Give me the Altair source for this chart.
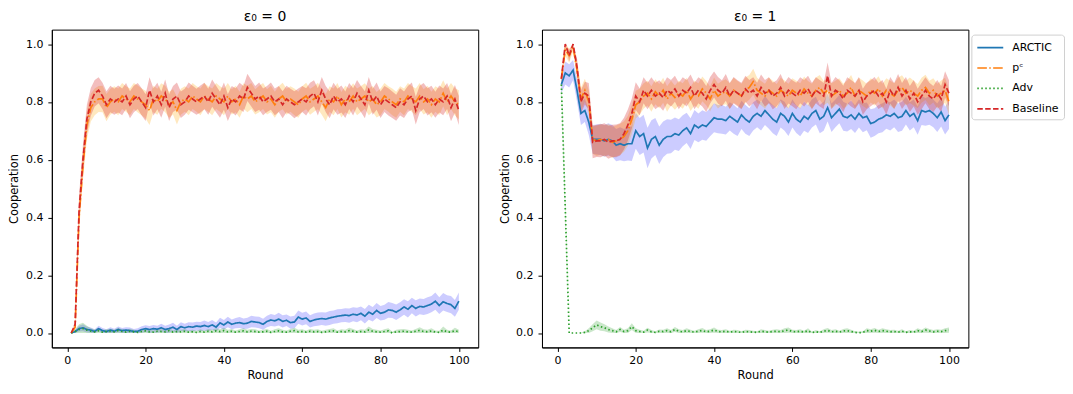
import altair as alt
import pandas as pd

rounds = list(range(1, 101))
series_names = ["ARCTIC", "pᶜ", "Adv", "Baseline"]
line_colors = ["#1f77b4", "#ff7f0e", "#2ca02c", "#d62728"]
band_colors = ["#0000ff", "#ffa500", "#2ca02c", "#d62728"]
band_opacity = [0.2, 0.25, 0.25, 0.3]
dashes = [[1, 0], [9.6, 2.4, 1.5, 2.4], [1.5, 2.5], [5.5, 2.4]]
panel_titles = ["ε₀ = 0", "ε₀ = 1"]
x_ticks = [0, 20, 40, 60, 80, 100]
y_ticks = [0.0, 0.2, 0.4, 0.6, 0.8, 1.0]

# ---------------- panel 1 (eps0 = 0) ----------------
p0_arctic = [0.000, 0.005, 0.015, 0.018, 0.012, 0.010, 0.005, 0.015, 0.008, 0.005,
             0.010, 0.006, 0.012, 0.008, 0.010, 0.008, 0.005, 0.006, 0.012, 0.015,
             0.012, 0.015, 0.013, 0.018, 0.012, 0.015, 0.020, 0.012, 0.022, 0.018,
             0.022, 0.020, 0.024, 0.022, 0.026, 0.022, 0.028, 0.020, 0.035, 0.028,
             0.038, 0.030, 0.034, 0.036, 0.032, 0.034, 0.040, 0.038, 0.036, 0.030,
             0.040, 0.045, 0.042, 0.048, 0.040, 0.044, 0.036, 0.038, 0.055, 0.048,
             0.052, 0.040, 0.045, 0.048, 0.050, 0.048, 0.052, 0.055, 0.058, 0.060,
             0.062, 0.060, 0.065, 0.062, 0.068, 0.058, 0.072, 0.065, 0.078, 0.068,
             0.072, 0.080, 0.078, 0.072, 0.080, 0.090, 0.082, 0.095, 0.085, 0.092,
             0.090, 0.095, 0.100, 0.110, 0.095, 0.108, 0.102, 0.098, 0.085, 0.110]
p0_arctic_ci = [0.000, 0.005, 0.010, 0.012, 0.010, 0.009, 0.008, 0.010, 0.009, 0.008,
                0.010, 0.009, 0.010, 0.009, 0.010, 0.011, 0.009, 0.010, 0.011, 0.012,
                0.012, 0.013, 0.012, 0.014, 0.013, 0.014, 0.015, 0.013, 0.015, 0.014,
                0.015, 0.016, 0.015, 0.016, 0.017, 0.016, 0.017, 0.016, 0.018, 0.017,
                0.018, 0.017, 0.018, 0.019, 0.018, 0.019, 0.020, 0.019, 0.020, 0.019,
                0.020, 0.021, 0.020, 0.022, 0.021, 0.020, 0.021, 0.022, 0.023, 0.022,
                0.022, 0.021, 0.022, 0.023, 0.022, 0.023, 0.024, 0.023, 0.024, 0.023,
                0.024, 0.025, 0.024, 0.025, 0.024, 0.025, 0.026, 0.025, 0.026, 0.025,
                0.026, 0.027, 0.026, 0.027, 0.026, 0.027, 0.028, 0.027, 0.028, 0.027,
                0.028, 0.029, 0.028, 0.030, 0.029, 0.030, 0.029, 0.030, 0.029, 0.030]
p0_pc = [0.00, 0.02, 0.40, 0.58, 0.72, 0.78, 0.80, 0.81, 0.81, 0.78,
         0.80, 0.81, 0.80, 0.82, 0.81, 0.80, 0.82, 0.81, 0.80, 0.79,
         0.77, 0.81, 0.80, 0.82, 0.81, 0.79, 0.80, 0.77, 0.80, 0.81,
         0.80, 0.82, 0.81, 0.80, 0.82, 0.81, 0.80, 0.82, 0.81, 0.80,
         0.82, 0.80, 0.81, 0.79, 0.82, 0.81, 0.82, 0.80, 0.81, 0.82,
         0.80, 0.81, 0.79, 0.81, 0.82, 0.80, 0.81, 0.80, 0.79, 0.81,
         0.82, 0.80, 0.81, 0.82, 0.80, 0.78, 0.81, 0.80, 0.82, 0.79,
         0.81, 0.80, 0.82, 0.80, 0.81, 0.82, 0.80, 0.81, 0.79, 0.80,
         0.82, 0.81, 0.80, 0.79, 0.81, 0.80, 0.82, 0.81, 0.80, 0.82,
         0.80, 0.81, 0.79, 0.81, 0.80, 0.83, 0.80, 0.82, 0.80, 0.79]
p0_pc_ci = [0.000, 0.010, 0.050, 0.050, 0.050, 0.048, 0.046, 0.045, 0.046, 0.047,
            0.045, 0.044, 0.046, 0.045, 0.044, 0.046, 0.045, 0.047, 0.046, 0.048,
            0.050, 0.046, 0.045, 0.044, 0.046, 0.045, 0.044, 0.048, 0.045, 0.044,
            0.046, 0.045, 0.044, 0.046, 0.045, 0.044, 0.046, 0.045, 0.044, 0.046,
            0.045, 0.044, 0.046, 0.045, 0.044, 0.046, 0.045, 0.044, 0.046, 0.045,
            0.044, 0.046, 0.045, 0.044, 0.046, 0.045, 0.044, 0.046, 0.045, 0.044,
            0.046, 0.045, 0.044, 0.046, 0.045, 0.047, 0.044, 0.046, 0.045, 0.044,
            0.046, 0.045, 0.044, 0.046, 0.045, 0.044, 0.046, 0.045, 0.044, 0.046,
            0.045, 0.044, 0.046, 0.045, 0.044, 0.046, 0.045, 0.044, 0.046, 0.045,
            0.044, 0.046, 0.045, 0.044, 0.046, 0.045, 0.046, 0.045, 0.047, 0.050]
p0_adv = [0.000, 0.005, 0.012, 0.015, 0.010, 0.006, 0.004, 0.008, 0.003, 0.005,
          0.006, 0.004, 0.008, 0.005, 0.003, 0.006, 0.004, 0.002, 0.005, 0.007,
          0.004, 0.003, 0.006, 0.005, 0.004, 0.008, 0.003, 0.005, 0.004, 0.006,
          0.003, 0.004, 0.002, 0.005, 0.003, 0.006, 0.004, 0.007, 0.005, 0.008,
          0.004, 0.006, 0.003, 0.005, 0.007, 0.004, 0.006, 0.005, 0.003, 0.004,
          0.006, 0.002, 0.005, 0.007, 0.004, 0.003, 0.006, 0.008, 0.004, 0.005,
          0.003, 0.006, 0.004, 0.005, 0.002, 0.004, 0.006, 0.007, 0.003, 0.005,
          0.004, 0.008, 0.006, 0.003, 0.005, 0.004, 0.010, 0.006, 0.004, 0.003,
          0.005, 0.007, 0.000, 0.004, 0.005, 0.006, 0.004, 0.003, 0.006, 0.009,
          0.005, 0.004, 0.007, 0.003, 0.002, 0.010, 0.004, 0.003, 0.008, 0.004]
p0_adv_ci = [0.000, 0.008, 0.018, 0.020, 0.015, 0.010, 0.008, 0.010, 0.007, 0.008,
             0.009, 0.007, 0.010, 0.008, 0.007, 0.009, 0.007, 0.006, 0.008, 0.009,
             0.007, 0.006, 0.008, 0.008, 0.007, 0.010, 0.006, 0.008, 0.007, 0.008,
             0.006, 0.007, 0.006, 0.008, 0.006, 0.008, 0.007, 0.009, 0.008, 0.010,
             0.007, 0.008, 0.006, 0.008, 0.009, 0.007, 0.008, 0.008, 0.006, 0.007,
             0.008, 0.006, 0.008, 0.009, 0.007, 0.006, 0.008, 0.010, 0.007, 0.008,
             0.006, 0.008, 0.007, 0.008, 0.006, 0.007, 0.008, 0.009, 0.006, 0.008,
             0.007, 0.010, 0.008, 0.006, 0.008, 0.007, 0.012, 0.008, 0.007, 0.006,
             0.008, 0.009, 0.004, 0.007, 0.008, 0.008, 0.007, 0.006, 0.008, 0.011,
             0.008, 0.007, 0.009, 0.006, 0.006, 0.012, 0.007, 0.006, 0.010, 0.007]
p0_base = [0.00, 0.03, 0.42, 0.60, 0.74, 0.80, 0.83, 0.84, 0.82, 0.79,
           0.81, 0.80, 0.81, 0.80, 0.82, 0.79, 0.81, 0.82, 0.80, 0.78,
           0.84, 0.80, 0.82, 0.79, 0.83, 0.78, 0.81, 0.82, 0.79, 0.80,
           0.82, 0.81, 0.80, 0.81, 0.82, 0.80, 0.83, 0.81, 0.79, 0.82,
           0.78, 0.81, 0.80, 0.82, 0.81, 0.85, 0.83, 0.81, 0.82, 0.80,
           0.81, 0.82, 0.80, 0.81, 0.79, 0.81, 0.80, 0.79, 0.80, 0.81,
           0.80, 0.82, 0.83, 0.80, 0.84, 0.81, 0.79, 0.82, 0.80, 0.81,
           0.79, 0.82, 0.80, 0.83, 0.81, 0.79, 0.84, 0.80, 0.82, 0.79,
           0.81, 0.80, 0.79, 0.78, 0.80, 0.79, 0.81, 0.82, 0.77, 0.81,
           0.82, 0.80, 0.81, 0.79, 0.81, 0.80, 0.82, 0.78, 0.81, 0.77]
p0_base_ci = [0.000, 0.012, 0.055, 0.052, 0.050, 0.048, 0.046, 0.045, 0.046, 0.047,
              0.046, 0.045, 0.047, 0.046, 0.045, 0.047, 0.046, 0.045, 0.047, 0.046,
              0.045, 0.047, 0.046, 0.045, 0.047, 0.046, 0.045, 0.047, 0.046, 0.045,
              0.047, 0.046, 0.045, 0.047, 0.046, 0.045, 0.047, 0.046, 0.045, 0.047,
              0.046, 0.045, 0.047, 0.046, 0.045, 0.047, 0.046, 0.045, 0.047, 0.046,
              0.045, 0.047, 0.046, 0.045, 0.047, 0.046, 0.045, 0.047, 0.046, 0.045,
              0.047, 0.046, 0.045, 0.047, 0.046, 0.045, 0.047, 0.046, 0.045, 0.047,
              0.046, 0.045, 0.047, 0.046, 0.045, 0.047, 0.046, 0.045, 0.047, 0.046,
              0.045, 0.047, 0.046, 0.045, 0.047, 0.046, 0.045, 0.047, 0.048, 0.046,
              0.045, 0.047, 0.046, 0.045, 0.047, 0.046, 0.045, 0.047, 0.048, 0.050]

# ---------------- panel 2 (eps0 = 1) ----------------
p1_arctic = [0.86, 0.90, 0.89, 0.91, 0.84, 0.76, 0.77, 0.73, 0.67, 0.67,
             0.67, 0.665, 0.67, 0.665, 0.65, 0.655, 0.65, 0.655, 0.655, 0.70,
             0.68, 0.69, 0.64, 0.67, 0.68, 0.65, 0.67, 0.68, 0.68, 0.69,
             0.685, 0.70, 0.71, 0.69, 0.72, 0.71, 0.72, 0.715, 0.73, 0.745,
             0.74, 0.74, 0.735, 0.75, 0.74, 0.73, 0.755, 0.74, 0.73, 0.75,
             0.76, 0.75, 0.77, 0.755, 0.74, 0.73, 0.76, 0.75, 0.73, 0.76,
             0.74, 0.73, 0.75, 0.74, 0.76, 0.77, 0.74, 0.75, 0.78, 0.745,
             0.76, 0.775, 0.75, 0.745, 0.755, 0.74, 0.76, 0.745, 0.75, 0.725,
             0.73, 0.74, 0.745, 0.755, 0.75, 0.76, 0.745, 0.75, 0.77, 0.75,
             0.76, 0.735, 0.77, 0.765, 0.77, 0.76, 0.745, 0.765, 0.735, 0.755]
p1_arctic_ci = [0.030, 0.040, 0.040, 0.035, 0.040, 0.040, 0.040, 0.045, 0.050, 0.052,
                0.054, 0.055, 0.056, 0.055, 0.056, 0.057, 0.056, 0.058, 0.060, 0.062,
                0.064, 0.065, 0.070, 0.066, 0.064, 0.065, 0.062, 0.060, 0.058, 0.056,
                0.055, 0.054, 0.052, 0.053, 0.052, 0.050, 0.051, 0.050, 0.049, 0.050,
                0.049, 0.050, 0.048, 0.049, 0.050, 0.048, 0.049, 0.050, 0.048, 0.049,
                0.048, 0.049, 0.050, 0.048, 0.049, 0.048, 0.049, 0.050, 0.048, 0.049,
                0.048, 0.049, 0.050, 0.048, 0.049, 0.048, 0.049, 0.050, 0.048, 0.049,
                0.048, 0.049, 0.050, 0.048, 0.049, 0.048, 0.049, 0.050, 0.048, 0.049,
                0.048, 0.049, 0.050, 0.048, 0.049, 0.048, 0.049, 0.050, 0.048, 0.049,
                0.048, 0.049, 0.050, 0.048, 0.049, 0.048, 0.049, 0.050, 0.048, 0.049]
p1_pc = [0.88, 0.98, 0.96, 0.99, 0.91, 0.81, 0.84, 0.80, 0.67, 0.665,
         0.67, 0.665, 0.67, 0.66, 0.665, 0.67, 0.68, 0.70, 0.74, 0.79,
         0.80, 0.82, 0.83, 0.81, 0.835, 0.82, 0.84, 0.81, 0.83, 0.815,
         0.83, 0.82, 0.84, 0.81, 0.83, 0.82, 0.845, 0.83, 0.81, 0.84,
         0.82, 0.83, 0.835, 0.82, 0.84, 0.83, 0.82, 0.84, 0.85, 0.87,
         0.84, 0.83, 0.82, 0.84, 0.83, 0.82, 0.84, 0.83, 0.82, 0.84,
         0.83, 0.82, 0.845, 0.83, 0.82, 0.84, 0.85, 0.83, 0.84, 0.82,
         0.83, 0.84, 0.82, 0.83, 0.85, 0.82, 0.84, 0.83, 0.82, 0.84,
         0.83, 0.845, 0.82, 0.84, 0.83, 0.82, 0.84, 0.85, 0.83, 0.84,
         0.83, 0.82, 0.84, 0.85, 0.83, 0.84, 0.82, 0.83, 0.84, 0.80]
p1_pc_ci = [0.020, 0.020, 0.025, 0.015, 0.030, 0.040, 0.040, 0.040, 0.050, 0.052,
            0.053, 0.054, 0.053, 0.054, 0.053, 0.054, 0.053, 0.052, 0.050, 0.048,
            0.045, 0.044, 0.043, 0.044, 0.043, 0.042, 0.043, 0.044, 0.043, 0.042,
            0.043, 0.044, 0.043, 0.042, 0.043, 0.044, 0.043, 0.042, 0.043, 0.044,
            0.043, 0.042, 0.043, 0.044, 0.043, 0.042, 0.043, 0.044, 0.043, 0.045,
            0.043, 0.042, 0.043, 0.044, 0.043, 0.042, 0.043, 0.044, 0.043, 0.042,
            0.043, 0.044, 0.043, 0.042, 0.043, 0.044, 0.043, 0.042, 0.043, 0.044,
            0.043, 0.042, 0.043, 0.044, 0.043, 0.042, 0.043, 0.044, 0.043, 0.042,
            0.043, 0.044, 0.043, 0.042, 0.043, 0.044, 0.043, 0.042, 0.043, 0.044,
            0.043, 0.042, 0.043, 0.044, 0.043, 0.042, 0.043, 0.044, 0.043, 0.045]
p1_adv = [0.86, 0.43, 0.000, 0.000, 0.000, 0.000, 0.002, 0.008, 0.018, 0.028,
          0.022, 0.018, 0.012, 0.008, 0.004, 0.012, 0.005, 0.008, 0.022, 0.008,
          0.005, 0.003, 0.010, 0.004, 0.002, 0.006, 0.005, 0.008, 0.004, 0.012,
          0.006, 0.004, 0.008, 0.005, 0.003, 0.006, 0.009, 0.004, 0.006, 0.010,
          0.005, 0.004, 0.006, 0.003, 0.005, 0.004, 0.002, 0.005, 0.004, 0.003,
          0.002, 0.006, 0.004, 0.003, 0.005, 0.006, 0.004, 0.008, 0.010, 0.005,
          0.004, 0.006, 0.003, 0.008, 0.001, 0.004, 0.002, 0.006, 0.009, 0.004,
          0.006, 0.003, 0.007, 0.008, 0.005, 0.002, 0.001, 0.002, 0.008, 0.006,
          0.009, 0.005, 0.008, 0.006, 0.004, 0.005, 0.003, 0.006, 0.002, 0.004,
          0.003, 0.008, 0.005, 0.010, 0.007, 0.004, 0.006, 0.005, 0.008, 0.010]
p1_adv_ci = [0.030, 0.030, 0.000, 0.000, 0.000, 0.001, 0.004, 0.008, 0.012, 0.015,
             0.014, 0.012, 0.010, 0.008, 0.006, 0.009, 0.006, 0.008, 0.012, 0.008,
             0.006, 0.005, 0.008, 0.006, 0.004, 0.006, 0.006, 0.008, 0.006, 0.009,
             0.007, 0.006, 0.008, 0.006, 0.005, 0.007, 0.008, 0.006, 0.007, 0.009,
             0.006, 0.006, 0.007, 0.005, 0.006, 0.006, 0.004, 0.006, 0.006, 0.005,
             0.004, 0.007, 0.006, 0.005, 0.006, 0.007, 0.006, 0.008, 0.009, 0.006,
             0.006, 0.007, 0.005, 0.008, 0.003, 0.006, 0.004, 0.007, 0.008, 0.006,
             0.007, 0.005, 0.007, 0.008, 0.006, 0.004, 0.003, 0.004, 0.008, 0.007,
             0.008, 0.006, 0.008, 0.007, 0.006, 0.006, 0.005, 0.007, 0.004, 0.006,
             0.005, 0.008, 0.006, 0.009, 0.007, 0.006, 0.007, 0.006, 0.008, 0.009]
p1_base = [0.88, 1.00, 0.96, 1.00, 0.92, 0.80, 0.83, 0.82, 0.66, 0.665,
           0.665, 0.67, 0.66, 0.665, 0.665, 0.67, 0.69, 0.72, 0.76, 0.82,
           0.80, 0.84, 0.82, 0.84, 0.82, 0.83, 0.815, 0.84, 0.83, 0.845,
           0.82, 0.84, 0.83, 0.85, 0.82, 0.84, 0.83, 0.81, 0.84, 0.86,
           0.84, 0.83, 0.85, 0.82, 0.84, 0.83, 0.82, 0.845, 0.83, 0.84,
           0.82, 0.85, 0.83, 0.84, 0.82, 0.83, 0.85, 0.82, 0.84, 0.83,
           0.82, 0.84, 0.83, 0.845, 0.82, 0.84, 0.83, 0.82, 0.89, 0.82,
           0.84, 0.83, 0.81, 0.84, 0.83, 0.82, 0.84, 0.80, 0.82, 0.83,
           0.84, 0.82, 0.83, 0.80, 0.84, 0.82, 0.85, 0.82, 0.84, 0.81,
           0.83, 0.80, 0.82, 0.84, 0.82, 0.81, 0.83, 0.81, 0.86, 0.83]
p1_base_ci = [0.020, 0.005, 0.020, 0.005, 0.030, 0.040, 0.040, 0.045, 0.055, 0.056,
              0.057, 0.056, 0.057, 0.056, 0.057, 0.056, 0.055, 0.054, 0.052, 0.048,
              0.046, 0.045, 0.046, 0.045, 0.046, 0.045, 0.046, 0.045, 0.046, 0.045,
              0.046, 0.045, 0.046, 0.045, 0.046, 0.045, 0.046, 0.045, 0.046, 0.045,
              0.046, 0.045, 0.046, 0.045, 0.046, 0.045, 0.046, 0.045, 0.046, 0.045,
              0.046, 0.045, 0.046, 0.045, 0.046, 0.045, 0.046, 0.045, 0.046, 0.045,
              0.046, 0.045, 0.046, 0.045, 0.046, 0.045, 0.046, 0.045, 0.046, 0.045,
              0.046, 0.045, 0.046, 0.045, 0.046, 0.045, 0.046, 0.045, 0.046, 0.045,
              0.046, 0.045, 0.046, 0.045, 0.046, 0.045, 0.046, 0.045, 0.046, 0.045,
              0.046, 0.045, 0.046, 0.045, 0.046, 0.045, 0.046, 0.045, 0.046, 0.045]

panels = [
    [(p0_arctic, p0_arctic_ci), (p0_pc, p0_pc_ci), (p0_adv, p0_adv_ci), (p0_base, p0_base_ci)],
    [(p1_arctic, p1_arctic_ci), (p1_pc, p1_pc_ci), (p1_adv, p1_adv_ci), (p1_base, p1_base_ci)],
]

FONT = "DejaVu Sans"
x_scale = alt.Scale(domain=[-3.95, 104.95], nice=False, zero=False)
y_scale = alt.Scale(domain=[-0.05, 1.05], nice=False, zero=False)
color_scale = alt.Scale(domain=series_names, range=line_colors)
dash_scale = alt.Scale(domain=series_names, range=dashes)

x_axis = alt.Axis(values=x_ticks, grid=False, tickSize=4, labelPadding=3, titlePadding=4,
                  labelFontSize=11, titleFontSize=11.5, titleFontWeight="normal",
                  labelFont=FONT, titleFont=FONT, domainColor="black", tickColor="black",
                  labelColor="black", titleColor="black", labelFlush=False)
y_axis = alt.Axis(values=y_ticks, format=".1f", grid=False, tickSize=4, labelPadding=5,
                  titlePadding=6, minExtent=26, maxExtent=26,
                  labelFontSize=11, titleFontSize=11.5, titleFontWeight="normal",
                  labelFont=FONT, titleFont=FONT, domainColor="black", tickColor="black",
                  labelColor="black", titleColor="black")

legend = alt.Legend(title=None, orient="none", legendX=923, legendY=5)


def make_panel(pi):
    layers_band = []
    layers_line = []
    for si, name in enumerate(series_names):
        mean, ci = panels[pi][si]
        df = pd.DataFrame({
            "round": rounds,
            "mean": mean,
            "lo": [max(0.0, m - c) for m, c in zip(mean, ci)],
            "hi": [min(1.0, m + c) for m, c in zip(mean, ci)],
            "series": name,
        })
        base = alt.Chart(df)
        layers_band.append(
            base.mark_area(color=band_colors[si], opacity=band_opacity[si]).encode(
                x=alt.X("round:Q", scale=x_scale, axis=x_axis, title="Round"),
                y=alt.Y("lo:Q", scale=y_scale, axis=y_axis, title="Cooperation"),
                y2="hi:Q",
            )
        )
        layers_line.append(
            base.mark_line(strokeWidth=1.7).encode(
                x=alt.X("round:Q", scale=x_scale, axis=x_axis, title="Round"),
                y=alt.Y("mean:Q", scale=y_scale, axis=y_axis, title="Cooperation"),
                color=alt.Color("series:N", scale=color_scale, legend=legend),
                strokeDash=alt.StrokeDash("series:N", scale=dash_scale, legend=legend),
            )
        )
    return alt.layer(*layers_band, *layers_line).properties(
        width=428, height=319,
        title=alt.TitleParams(panel_titles[pi], fontSize=14, fontWeight="normal",
                              font=FONT, color="black", offset=6),
    )


chart = alt.hconcat(make_panel(0), make_panel(1), spacing=19).resolve_scale(
    color="shared", strokeDash="shared"
).properties(
    padding={"left": 0, "top": 0, "right": 0, "bottom": 0}
).configure_view(
    stroke="black", strokeWidth=1
).configure_legend(
    strokeColor="#d0d0d0", fillColor="white",
    cornerRadius=3, padding=5, labelFontSize=11, labelFont=FONT, labelColor="black",
    symbolType="M-1.86,0H1.86", symbolSize=196, symbolStrokeWidth=1.7,
    symbolOffset=6, rowPadding=7.5, labelOffset=14
)

chart.save("out.html", embed_options={"renderer": "svg", "actions": False})
